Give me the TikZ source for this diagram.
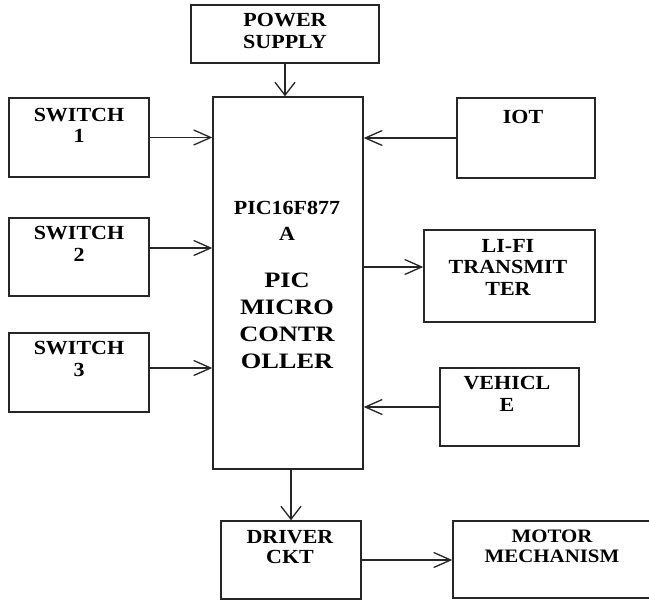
\documentclass[tikz,border=0pt]{standalone}
\usepackage{fontspec}
\newfontfamily\lab[FakeStretch=1.1]{Liberation Serif}
\newfontfamily\labb[FakeStretch=1.2]{Liberation Serif}
\usetikzlibrary{arrows.meta}
\begin{document}
\begin{tikzpicture}[x=1pt,y=-1pt,
  box/.style={draw=black!85,line width=1.4pt,inner sep=0pt},
  txt/.style={font=\lab\bfseries\fontsize{20}{21.5}\selectfont,align=center,inner sep=0pt,text=black},
  bigtxt/.style={font=\labb\bfseries\fontsize{22}{27}\selectfont,align=center,inner sep=0pt,text=black},
  harr/.style={draw=black!85,line width=1.3pt,-{Straight Barb[length=17pt,width=15pt,line width=1.3pt]}},
  varr/.style={draw=black!85,line width=1.3pt,-{Straight Barb[length=13pt,width=20pt,line width=1.3pt]}}]
\useasboundingbox[fill=white] (0,0) rectangle (649,600);
% boxes
\node[box,minimum width=188pt,minimum height=58pt] (ps) at (285,34) {};
\node[box,minimum width=150pt,minimum height=372pt] (main) at (288,283) {};
\node[box,minimum width=140pt,minimum height=79pt] (sw1) at (79,137.5) {};
\node[box,minimum width=140pt,minimum height=78pt] (sw2) at (79,257) {};
\node[box,minimum width=140pt,minimum height=79pt] (sw3) at (79,372.5) {};
\node[box,minimum width=138pt,minimum height=80pt] (iot) at (526,138) {};
\node[box,minimum width=171pt,minimum height=92pt] (lifi) at (509.5,276) {};
\node[box,minimum width=139pt,minimum height=78pt] (veh) at (509.5,407) {};
\node[box,minimum width=140pt,minimum height=78pt] (drv) at (291,560) {};
\node[box,minimum width=202pt,minimum height=77pt] (mot) at (554,559.5) {};
% texts
\node[txt] (tps) at (285,31) {POWER\\SUPPLY};
\node[txt] (tsw1) at (79,125.5) {SWITCH\\1};
\node[txt] (tsw2) at (79,244) {SWITCH\\2};
\node[txt] (tsw3) at (79,359) {SWITCH\\3};
\node[txt] (tiot) at (523,117) {IOT};
\node[txt] (tlifi) at (508,267) {LI-FI\\TRANSMIT\\TER};
\node[txt] (tveh) at (507,394) {VEHICL\\E};
\node[txt,font=\lab\bfseries\fontsize{20}{26}\selectfont] (tm1) at (287,221) {PIC16F877\\A};
\node[bigtxt] (tm2) at (287,320.5) {PIC\\MICRO\\CONTR\\OLLER};
\node[txt,font=\lab\bfseries\fontsize{20}{20.5}\selectfont] (tdrv) at (290,547) {DRIVER\\CKT};
\node[txt,font=\lab\bfseries\fontsize{19}{20}\selectfont] (tmot) at (552,546) {MOTOR\\MECHANISM};
% connectors
\draw[varr] (ps.south) -- (ps.south |- main.north);
\draw[harr] (sw1.east) -- (sw1.east -| main.west);
\draw[harr] ([yshift=9pt]sw2.east) -- ([yshift=9pt]sw2.east -| main.west);
\draw[harr] ([yshift=4.5pt]sw3.east) -- ([yshift=4.5pt]sw3.east -| main.west);
\draw[harr] (iot.west) -- (iot.west -| main.east);
\draw[harr] ([yshift=9pt]lifi.west -| main.east) -- ([yshift=9pt]lifi.west);
\draw[harr] (veh.west) -- (veh.west -| main.east);
\draw[varr] (drv.north |- main.south) -- (drv.north);
\draw[harr] (drv.east) -- (drv.east -| mot.west);
\end{tikzpicture}
\end{document}
